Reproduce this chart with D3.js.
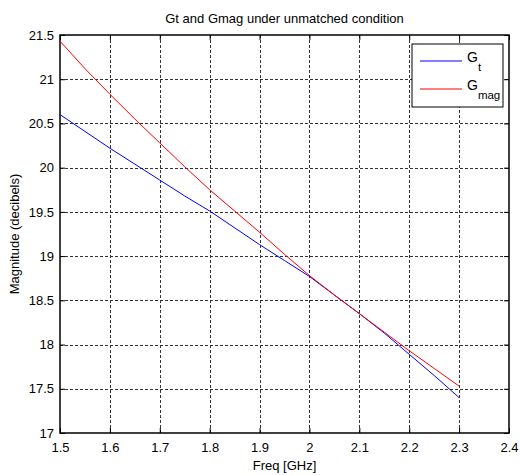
<!DOCTYPE html>
<html>
<head>
<meta charset="utf-8">
<script src="https://cdn.jsdelivr.net/npm/d3@7"></script>
<style>
  html, body { margin: 0; padding: 0; background: #fff; }
  svg { display: block; font-family: "Liberation Sans", Arial, sans-serif; }
</style>
</head>
<body>
<svg id="chart" width="520" height="475"></svg>
<script>
// Frequency sweep (GHz)
const freq = [1.5, 1.55, 1.6, 1.65, 1.7, 1.75, 1.8, 1.85, 1.9, 1.95, 2.0, 2.05, 2.1, 2.15, 2.2, 2.25, 2.3];
// Transducer gain Gt (dB)
const gt = [20.60, 20.41, 20.22, 20.04, 19.86, 19.68, 19.51, 19.32, 19.13, 18.95, 18.77, 18.56, 18.35, 18.13, 17.89, 17.65, 17.40];
// Maximum available gain Gmag (dB)
const gmag = [21.43, 21.12, 20.83, 20.55, 20.28, 20.01, 19.75, 19.51, 19.27, 19.02, 18.78, 18.56, 18.35, 18.14, 17.93, 17.73, 17.53];

const xTicks = [1.5, 1.6, 1.7, 1.8, 1.9, 2.0, 2.1, 2.2, 2.3, 2.4];
const yTicks = [17, 17.5, 18, 18.5, 19, 19.5, 20, 20.5, 21, 21.5];

const margin = { left: 60, right: 11, top: 35, bottom: 42 };
const W = 520, H = 475;
const iw = W - margin.left - margin.right;
const ih = H - margin.top - margin.bottom;

const svg = d3.select("#chart");
const g = svg.append("g").attr("transform", `translate(${margin.left},${margin.top})`);

const x = d3.scaleLinear().domain([1.5, 2.4]).range([0, iw]);
const y = d3.scaleLinear().domain([17, 21.5]).range([ih, 0]);

// Dotted grid
const grid = g.append("g").attr("stroke", "#000").attr("stroke-width", 1)
  .attr("stroke-dasharray", "3,2").attr("opacity", 0.8);
grid.selectAll("line.gx").data(xTicks.slice(1, -1)).join("line")
  .attr("x1", d => Math.round(x(d)) + 0.5).attr("x2", d => Math.round(x(d)) + 0.5)
  .attr("y1", 0).attr("y2", ih);
grid.selectAll("line.gy").data(yTicks.slice(1, -1)).join("line")
  .attr("y1", d => Math.round(y(d)) + 0.5).attr("y2", d => Math.round(y(d)) + 0.5)
  .attr("x1", 0).attr("x2", iw);

// Axes with inward ticks on all four sides
const fmt = d => String(+d.toFixed(1));
const xAxis = g.append("g").attr("transform", `translate(0,${ih})`)
  .call(d3.axisBottom(x).tickValues(xTicks).tickFormat(fmt).tickSizeInner(-5).tickSizeOuter(0).tickPadding(10));
const yAxis = g.append("g")
  .call(d3.axisLeft(y).tickValues(yTicks).tickFormat(fmt).tickSizeInner(-5).tickSizeOuter(0).tickPadding(6));
const xTop = g.append("g")
  .call(d3.axisTop(x).tickValues(xTicks).tickFormat("").tickSizeInner(-5).tickSizeOuter(0));
const yRight = g.append("g").attr("transform", `translate(${iw},0)`)
  .call(d3.axisRight(y).tickValues(yTicks).tickFormat("").tickSizeInner(-5).tickSizeOuter(0));
[xAxis, yAxis, xTop, yRight].forEach(a => {
  a.select(".domain").remove();
  a.selectAll("line").attr("stroke", "#000");
  a.selectAll("text").attr("fill", "#000").attr("font-size", 13)
    .attr("font-family", "'Liberation Sans', Arial, sans-serif");
});

// Plot box
g.append("rect").attr("x", 0).attr("y", 0).attr("width", iw).attr("height", ih)
  .attr("fill", "none").attr("stroke", "#000").attr("stroke-width", 1.5);

// Series
const line = d3.line().x(d => x(d[0])).y(d => y(d[1]));
g.append("path").datum(freq.map((f, i) => [f, gt[i]]))
  .attr("d", line).attr("fill", "none").attr("stroke", "#0000ff").attr("stroke-width", 1);
g.append("path").datum(freq.map((f, i) => [f, gmag[i]]))
  .attr("d", line).attr("fill", "none").attr("stroke", "#ff0000").attr("stroke-width", 1);

// Legend
const lg = svg.append("g").attr("transform", "translate(412,44)");
lg.append("rect").attr("width", 91).attr("height", 63)
  .attr("fill", "#fff").attr("stroke", "#000").attr("stroke-width", 1);
const entries = [
  { color: "#0000ff", main: "G", sub: "t", ly: 17 },
  { color: "#ff0000", main: "G", sub: "mag", ly: 45 }
];
entries.forEach(e => {
  lg.append("line").attr("x1", 8).attr("x2", 50).attr("y1", e.ly).attr("y2", e.ly)
    .attr("stroke", e.color).attr("stroke-width", 1);
  const t = lg.append("text").attr("x", 55).attr("y", e.ly + 1)
    .attr("font-size", 14).attr("fill", "#000");
  t.append("tspan").text(e.main);
  t.append("tspan").attr("dy", 9).attr("font-size", 11.5).text(e.sub);
});

// Titles
svg.append("text").attr("x", margin.left + iw / 2).attr("y", 23)
  .attr("text-anchor", "middle").attr("font-size", 13).text("Gt and Gmag under unmatched condition");
svg.append("text").attr("x", margin.left + iw / 2).attr("y", 470)
  .attr("text-anchor", "middle").attr("font-size", 13).text("Freq [GHz]");
svg.append("text").attr("transform", `translate(19,${margin.top + ih / 2}) rotate(-90)`)
  .attr("text-anchor", "middle").attr("font-size", 13).text("Magnitude (decibels)");
</script>
</body>
</html>
